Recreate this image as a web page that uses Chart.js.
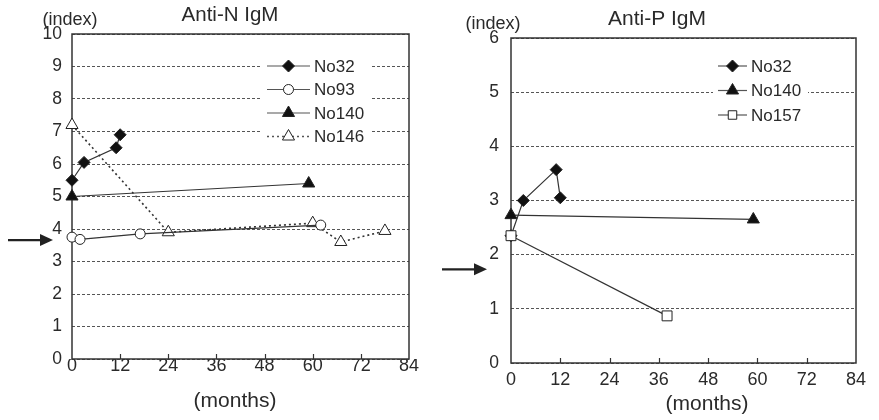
<!DOCTYPE html>
<html>
<head>
<meta charset="utf-8">
<script src="https://cdn.jsdelivr.net/npm/chart.js@4.4.1/dist/chart.umd.min.js"></script>
<style>
  html, body { margin: 0; padding: 0; background: #fff; }
  #wrap { position: relative; width: 879px; height: 420px; }
  canvas { position: absolute; top: 0; }
  #chartN { left: 0; }
  #chartP { left: 430px; }
</style>
</head>
<body>
<div id="wrap">
  <canvas id="chartN" width="430" height="420"></canvas>
  <canvas id="chartP" width="449" height="420"></canvas>
</div>
<script>
// x axis (months) and y axis (index) ticks
const monthTicks = [0, 12, 24, 36, 48, 60, 72, 84];
const indexTicksN = [0, 1, 2, 3, 4, 5, 6, 7, 8, 9, 10];
const indexTicksP = [0, 1, 2, 3, 4, 5, 6];

// Anti-N IgM
const n32Months = [0, 3, 11, 12];
const n32Values = [5.5, 6.05, 6.5, 6.9];
const n93Months = [0, 2, 17, 62];
const n93Values = [3.75, 3.68, 3.85, 4.12];
const n140Months = [0, 59];
const n140Values = [5.0, 5.4];
const n146Months = [0, 24, 60, 67, 78];
const n146Values = [7.2, 3.9, 4.18, 3.6, 3.94];
const cutoffN = 3.66;

// Anti-P IgM
const p32Months = [0, 3, 11, 12];
const p32Values = [2.35, 3.0, 3.57, 3.05];
const p140Months = [0, 59];
const p140Values = [2.73, 2.65];
const p157Months = [0, 38];
const p157Values = [2.35, 0.87];
const cutoffP = 1.73;

const FONT = '"Liberation Sans", Arial, sans-serif';
const INK = '#2a2a2a';

function pts(months, values) {
    return months.map((m, i) => ({ x: m, y: values[i] }));
}

function series(label, months, values, style) {
    return Object.assign({
        label: label,
        data: pts(months, values),
        borderColor: '#333',
        borderWidth: 1.2,
        pointBorderColor: '#222',
        pointBorderWidth: 1,
        clip: false,
        tension: 0
    }, style);
}

const filledDiamond = { pointStyle: 'rectRot', pointRadius: 6, pointBackgroundColor: '#111' };
const openCircle = { pointStyle: 'circle', pointRadius: 5, pointBackgroundColor: '#fff' };
const filledTriangle = { pointStyle: 'triangle', pointRadius: 7, pointBackgroundColor: '#111' };
const openTriangle = { pointStyle: 'triangle', pointRadius: 7, pointBackgroundColor: '#fff' };
const openSquare = { pointStyle: 'rect', pointRadius: 7, pointBackgroundColor: '#fff', order: -1 };

// frame, inner ticks, legend, texts and arrow
const panelDecor = {
    id: 'panelDecor',
    beforeDatasetsDraw(chart, args, o) {
        const ctx = chart.ctx;
        const a = chart.chartArea;
        ctx.save();
        ctx.fillStyle = '#fff';
        ctx.fillRect(o.legendBox[0], o.legendBox[1], o.legendBox[2], o.legendBox[3]);
        ctx.strokeStyle = '#333';
        ctx.lineWidth = 1.5;
        ctx.strokeRect(a.left, a.top, a.right - a.left, a.bottom - a.top);
        const xs = chart.scales.x;
        ctx.lineWidth = 1.2;
        xs.ticks.forEach(t => {
            if (t.value <= xs.min || t.value >= xs.max) return;
            const px = Math.round(xs.getPixelForValue(t.value)) + 0.5;
            ctx.beginPath();
            ctx.moveTo(px, a.bottom);
            ctx.lineTo(px, a.bottom - 5);
            ctx.stroke();
        });
        ctx.restore();
    },
    afterDatasetsDraw(chart, args, o) {
        const ctx = chart.ctx;
        ctx.save();
        ctx.fillStyle = INK;
        ctx.textAlign = 'center';
        ctx.textBaseline = 'alphabetic';
        ctx.font = o.titleSize + 'px ' + FONT;
        ctx.fillText(o.title, o.titlePos[0], o.titlePos[1]);
        ctx.font = '18px ' + FONT;
        ctx.fillText('(index)', o.indexPos[0], o.indexPos[1]);
        ctx.font = '21px ' + FONT;
        ctx.fillText('(months)', o.monthsPos[0], o.monthsPos[1]);

        // legend
        const lg = o.legend;
        ctx.font = '17px ' + FONT;
        ctx.textAlign = 'left';
        ctx.textBaseline = 'middle';
        chart.data.datasets.forEach((ds, i) => {
            const y = lg.y + i * lg.step;
            ctx.strokeStyle = '#555';
            ctx.lineWidth = ds.borderWidth;
            ctx.setLineDash(ds.borderDash || []);
            ctx.beginPath();
            ctx.moveTo(lg.x, y);
            ctx.lineTo(lg.x + lg.len, y);
            ctx.stroke();
            ctx.setLineDash([]);
            ctx.fillStyle = ds.pointBackgroundColor;
            ctx.strokeStyle = ds.pointBorderColor;
            ctx.lineWidth = ds.pointBorderWidth;
            Chart.helpers.drawPoint(ctx, {
                pointStyle: ds.pointStyle,
                radius: ds.pointStyle === 'rect' ? 6 : ds.pointRadius,
                rotation: 0,
                borderWidth: ds.pointBorderWidth
            }, lg.x + lg.len / 2, y);
            ctx.fillStyle = INK;
            ctx.fillText(ds.label, lg.x + lg.len + lg.gap, y + 1);
        });

        // cut-off arrow
        const ys = chart.scales.y;
        const ay = ys.getPixelForValue(o.cutoff);
        ctx.strokeStyle = '#222';
        ctx.fillStyle = '#222';
        ctx.lineWidth = 2.2;
        ctx.beginPath();
        ctx.moveTo(o.arrowX[0], ay);
        ctx.lineTo(o.arrowX[1] - 12, ay);
        ctx.stroke();
        ctx.beginPath();
        ctx.moveTo(o.arrowX[1], ay);
        ctx.lineTo(o.arrowX[1] - 13, ay - 6);
        ctx.lineTo(o.arrowX[1] - 13, ay + 6);
        ctx.closePath();
        ctx.fill();
        ctx.restore();
    }
};

function makeChart(id, datasets, yTicks, geo, decor) {
    return new Chart(document.getElementById(id), {
        type: 'line',
        data: { datasets: datasets },
        plugins: [panelDecor],
        options: {
            responsive: false,
            animation: false,
            layout: { padding: { top: geo.top, right: geo.right, left: 0, bottom: 0 } },
            plugins: {
                legend: { display: false },
                tooltip: { enabled: false },
                panelDecor: decor
            },
            scales: {
                x: {
                    type: 'linear',
                    min: monthTicks[0],
                    max: monthTicks[monthTicks.length - 1],
                    afterBuildTicks: s => { s.ticks = monthTicks.map(v => ({ value: v })); },
                    afterFit: s => { s.height = geo.xHeight; },
                    grid: { display: false, drawTicks: false },
                    border: { display: false },
                    ticks: {
                        autoSkip: false,
                        maxRotation: 0,
                        padding: geo.xPad,
                        color: INK,
                        font: { family: FONT, size: 18 }
                    }
                },
                y: {
                    min: yTicks[0],
                    max: yTicks[yTicks.length - 1],
                    afterBuildTicks: s => { s.ticks = yTicks.map(v => ({ value: v })); },
                    afterFit: s => { s.width = geo.yWidth; },
                    grid: { color: '#555', lineWidth: 1, drawTicks: false },
                    border: { display: false, dash: [3, 2] },
                    ticks: {
                        autoSkip: false,
                        padding: geo.yPad,
                        color: INK,
                        font: { family: FONT, size: 17.5 }
                    }
                }
            }
        }
    });
}

makeChart('chartN', [
    series('No32', n32Months, n32Values, filledDiamond),
    series('No93', n93Months, n93Values, openCircle),
    series('No140', n140Months, n140Values, filledTriangle),
    series('No146', n146Months, n146Values, Object.assign({ borderDash: [2, 3], borderWidth: 1.6 }, openTriangle))
], indexTicksN,
    { top: 34, right: 21, xHeight: 61, yWidth: 72, xPad: -4, yPad: 10 },
    {
        title: 'Anti-N IgM', titleSize: 20.5, titlePos: [230, 21],
        indexPos: [70, 25], monthsPos: [235, 407],
        legendBox: [260, 50, 110, 98],
        legend: { x: 267, y: 66, step: 23.5, len: 43, gap: 4 },
        cutoff: cutoffN, arrowX: [8, 53]
    });

makeChart('chartP', [
    series('No32', p32Months, p32Values, filledDiamond),
    series('No140', p140Months, p140Values, filledTriangle),
    series('No157', p157Months, p157Values, openSquare)
], indexTicksP,
    { top: 38, right: 23, xHeight: 57, yWidth: 81, xPad: 6, yPad: 12 },
    {
        title: 'Anti-P IgM', titleSize: 21, titlePos: [227, 25],
        indexPos: [63, 29], monthsPos: [277, 410],
        legendBox: [283, 50, 95, 78],
        legend: { x: 288, y: 66, step: 24.5, len: 29, gap: 4 },
        cutoff: cutoffP, arrowX: [12, 57]
    });
</script>
</body>
</html>
